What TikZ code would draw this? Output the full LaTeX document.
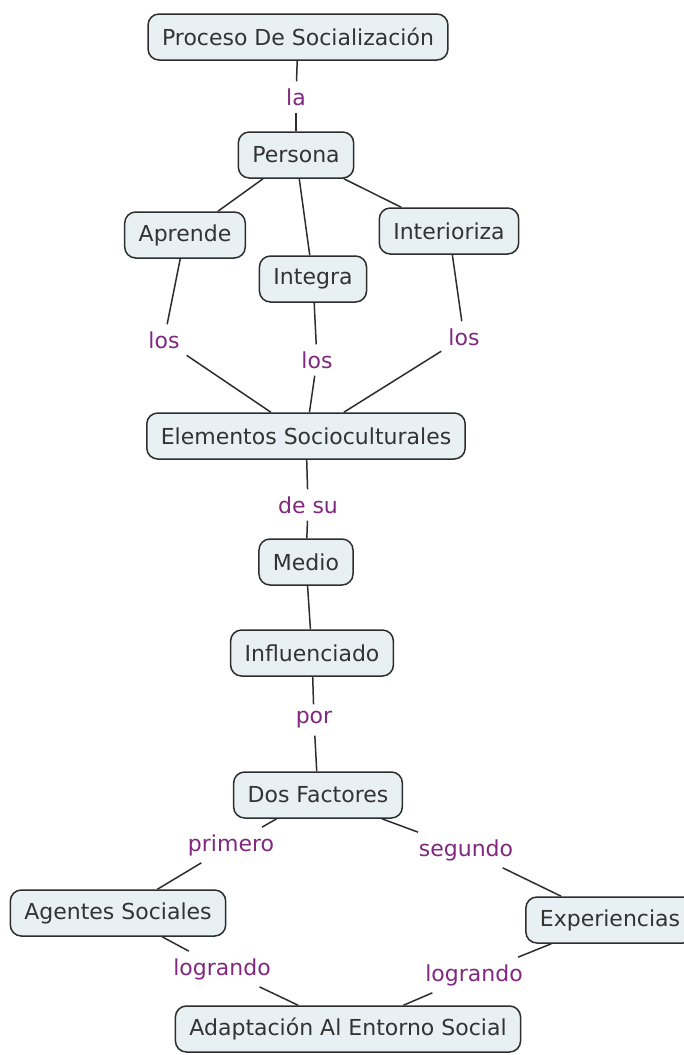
\documentclass[tikz,border=0pt]{standalone}
\usepackage{fontspec}
\setmainfont{DejaVu Sans}
\usepackage{xcolor}
\definecolor{boxfill}{RGB}{233,240,243}
\definecolor{boxline}{RGB}{45,45,45}
\definecolor{linkcol}{RGB}{128,40,128}

\begin{document}
\begin{tikzpicture}[x=1pt,y=-1pt,
		concept/.style={draw=boxline, fill=boxfill, line width=1.5pt, rounded corners=11pt,
			minimum height=46pt, inner xsep=14pt, text=black!80, font=\fontsize{22}{26}\selectfont},
		linkword/.style={text=linkcol, inner sep=7pt, font=\fontsize{22}{26}\selectfont},
		conn/.style={draw=boxline, line width=1.5pt}]
		\useasboundingbox (0,0) rectangle (683,1055);
		% conceptos
		\node[concept] (proceso) at (298,37) {Proceso De Socialización};
		\node[concept] (persona) at (296,155) {Persona};
		\node[concept] (aprende) at (185,235) {Aprende};
		\node[concept] (integra) at (313,279) {Integra};
		\node[concept] (interioriza) at (449,231) {Interioriza};
		\node[concept] (elementos) at (306,436) {Elementos Socioculturales};
		\node[concept] (medio) at (306,562) {Medio};
		\node[concept] (influenciado) at (312,653) {Influenciado};
		\node[concept] (factores) at (318,795) {Dos Factores};
		\node[concept] (agentes) at (118,913) {Agentes Sociales};
		\node[concept] (experiencias) at (610,920) {Experiencias};
		\node[concept] (adaptacion) at (348,1029) {Adaptación Al Entorno Social};
		% palabras de enlace
		\node[linkword] (la) at (296,97) {la};
		\node[linkword] (losA) at (164,340) {los};
		\node[linkword] (losB) at (317,360) {los};
		\node[linkword] (losC) at (464,337) {los};
		\node[linkword] (desu) at (308,505) {de su};
		\node[linkword] (por) at (314,720) {por};
		\node[linkword] (primero) at (231,845) {primero};
		\node[linkword] (segundo) at (466,850) {segundo};
		\node[linkword] (lograndoA) at (222,969) {logrando};
		\node[linkword] (lograndoB) at (474,975) {logrando};
		% enlaces
		\draw[conn] (proceso) -- (la);
		\draw[conn] (la) -- (persona);
		\draw[conn] (persona) -- (aprende);
		\draw[conn] (persona) -- (integra);
		\draw[conn] (persona) -- (interioriza);
		\draw[conn] (aprende) -- (losA);
		\draw[conn] (losA) -- (elementos);
		\draw[conn] (integra) -- (losB);
		\draw[conn] (losB) -- (elementos);
		\draw[conn] (interioriza) -- (losC);
		\draw[conn] (losC) -- (elementos);
		\draw[conn] (elementos) -- (desu);
		\draw[conn] (desu) -- (medio);
		\draw[conn] (medio) -- (influenciado);
		\draw[conn] (influenciado) -- (por);
		\draw[conn] (por) -- (factores);
		\draw[conn] (factores) -- (primero);
		\draw[conn] (primero) -- (agentes);
		\draw[conn] (factores) -- (segundo);
		\draw[conn] (segundo) -- (experiencias);
		\draw[conn] (agentes) -- (lograndoA);
		\draw[conn] (lograndoA) -- (adaptacion);
		\draw[conn] (experiencias) -- (lograndoB);
		\draw[conn] (lograndoB) -- (adaptacion);
	\end{tikzpicture}
\end{document}
